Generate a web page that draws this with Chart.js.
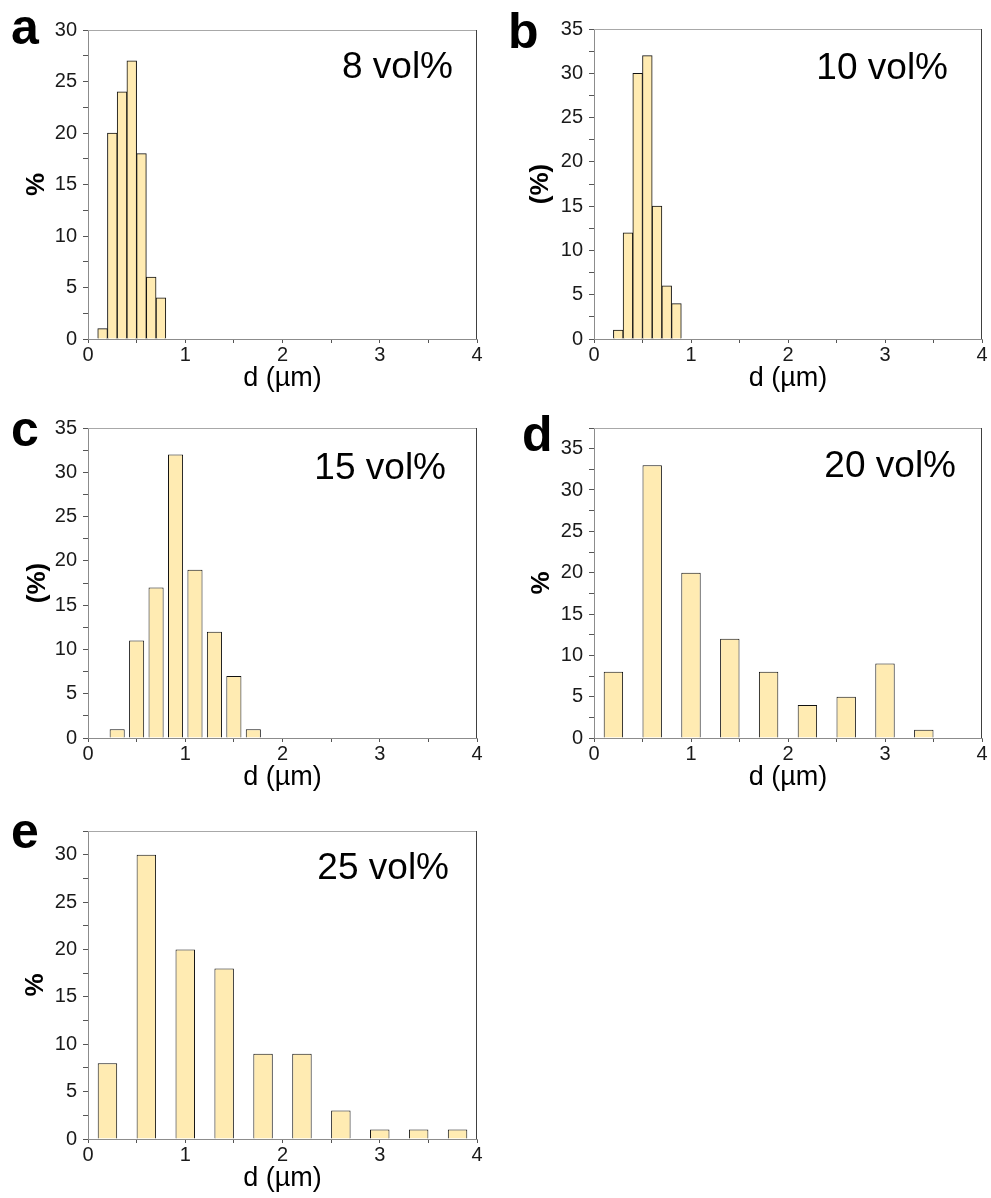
<!DOCTYPE html>
<html>
<head>
<meta charset="utf-8">
<script src="https://cdn.jsdelivr.net/npm/chart.js@4.4.1/dist/chart.umd.min.js"></script>
<style>
  body { margin: 0; background: #fff; width: 991px; height: 1198px; position: relative; overflow: hidden;
         font-family: 'Liberation Sans', Arial, sans-serif; }
  canvas { position: absolute; }
  .letter { position: absolute; font-weight: bold; font-size: 50px; line-height: 50px; color: #000; }
</style>
</head>
<body>
<canvas id="chartA"></canvas>
<canvas id="chartB"></canvas>
<canvas id="chartC"></canvas>
<canvas id="chartD"></canvas>
<canvas id="chartE"></canvas>
<div class="letter" style="left:11px; top:2px;">a</div>
<div class="letter" style="left:508px; top:6px;">b</div>
<div class="letter" style="left:11px; top:404px;">c</div>
<div class="letter" style="left:522px; top:409px;">d</div>
<div class="letter" style="left:11px; top:806px;">e</div>
<script>
// Datos de cada histograma (centro de la clase en µm, porcentaje)
const dA = [0.15, 0.25, 0.35, 0.45, 0.55, 0.65, 0.75];
const pctA = [1, 20, 24, 27, 18, 6, 4];

const dB = [0.25, 0.35, 0.45, 0.55, 0.65, 0.75, 0.85];
const pctB = [1, 12, 30, 32, 15, 6, 4];

const dC = [0.3, 0.5, 0.7, 0.9, 1.1, 1.3, 1.5, 1.7];
const pctC = [1, 11, 17, 32, 19, 12, 7, 1];

const dD = [0.2, 0.6, 1.0, 1.4, 1.8, 2.2, 2.6, 3.0, 3.4];
const pctD = [8, 33, 20, 12, 8, 4, 5, 9, 1];

const dE = [0.2, 0.6, 1.0, 1.4, 1.8, 2.2, 2.6, 3.0, 3.4, 3.8];
const pctE = [8, 30, 20, 18, 9, 9, 3, 1, 1, 1];

// Ticks (los intermedios van sin etiqueta)
const xTicks = [0, 0.5, 1, 1.5, 2, 2.5, 3, 3.5, 4];
const yTicksA = [0, 2.5, 5, 7.5, 10, 12.5, 15, 17.5, 20, 22.5, 25, 27.5, 30];
const yTicksB = [0, 2.5, 5, 7.5, 10, 12.5, 15, 17.5, 20, 22.5, 25, 27.5, 30, 32.5, 35];
const yTicksC = yTicksB;
const yTicksD = [0, 2.5, 5, 7.5, 10, 12.5, 15, 17.5, 20, 22.5, 25, 27.5, 30, 32.5, 35, 37.5];
const yTicksE = [0, 2.5, 5, 7.5, 10, 12.5, 15, 17.5, 20, 22.5, 25, 27.5, 30, 32.5];

const FONT = "'Liberation Sans', Arial, sans-serif";

// Marco gris arriba/derecha y la etiqueta "x vol%"
const framePlugin = {
    id: 'frame',
    afterDraw(chart, args, opts) {
        const { ctx, chartArea: a } = chart;
        ctx.save();
        ctx.lineWidth = 1;
        ctx.strokeStyle = '#a8a8a8';
        ctx.beginPath();
        ctx.moveTo(a.left, a.top + 0.5);
        ctx.lineTo(a.right, a.top + 0.5);
        ctx.stroke();
        ctx.strokeStyle = '#404040';
        ctx.beginPath();
        ctx.moveTo(a.right - 0.5, a.top);
        ctx.lineTo(a.right - 0.5, a.bottom);
        ctx.stroke();
        ctx.fillStyle = '#000';
        ctx.font = '37px ' + FONT;
        ctx.textAlign = 'right';
        ctx.textBaseline = 'alphabetic';
        ctx.fillText(opts.text, a.right - opts.gap, a.top + opts.dy);
        ctx.restore();
    }
};

function makeHist(id, p) {
    const cv = document.getElementById(id);
    const top = p.plotT - 14;
    const h = p.plotB - p.plotT + 14 + 62;
    cv.width = p.w;
    cv.height = h;
    cv.style.left = p.colX + 'px';
    cv.style.top = top + 'px';
    cv.style.width = p.w + 'px';
    cv.style.height = h + 'px';

    return new Chart(cv, {
        type: 'bar',
        data: {
            datasets: [{
                data: p.xs.map((x, i) => ({ x: x, y: p.ys[i] })),
                backgroundColor: '#FFEBB2',
                borderColor: '#111',
                borderWidth: 1,
                barPercentage: p.barPct,
                categoryPercentage: 1
            }]
        },
        plugins: [framePlugin],
        options: {
            responsive: false,
            animation: false,
            events: [],
            layout: { padding: { top: 14, left: 0, bottom: 0, right: p.colX + p.w - p.plotR } },
            plugins: {
                legend: { display: false },
                tooltip: { enabled: false },
                frame: { text: p.label, gap: p.gap, dy: p.dy }
            },
            scales: {
                x: {
                    type: 'linear',
                    min: 0,
                    max: 4,
                    offset: false,
                    afterBuildTicks: s => { s.ticks = xTicks.map(v => ({ value: v })); },
                    afterFit: s => { s.height = 62; },
                    grid: { display: true, drawOnChartArea: false, drawTicks: true, tickLength: 4, tickColor: '#555', offset: false },
                    border: { color: '#8c8c8c', width: 1 },
                    ticks: {
                        autoSkip: false, maxRotation: 0, padding: 0, color: '#1a1a1a',
                        font: { size: 20, family: FONT },
                        callback: v => Number.isInteger(v) ? String(v) : ''
                    },
                    title: { display: true, text: 'd (µm)', color: '#000', font: { size: 27, family: FONT }, padding: { top: 0, bottom: 6 } }
                },
                y: {
                    min: 0,
                    max: p.yTicks[p.yTicks.length - 1],
                    afterBuildTicks: s => { s.ticks = p.yTicks.map(v => ({ value: v })); },
                    afterFit: s => { s.width = p.plotL - p.colX; },
                    grid: { display: true, drawOnChartArea: false, drawTicks: true, tickLength: 5, tickColor: '#555' },
                    border: { color: '#8c8c8c', width: 1 },
                    ticks: {
                        autoSkip: false, padding: 6, color: '#1a1a1a',
                        font: { size: 20, family: FONT },
                        callback: v => (v % 5 === 0) ? String(v) : ''
                    },
                    title: { display: true, text: p.yTitle, color: '#000', font: { size: 26, weight: 'bold', family: FONT }, padding: { top: p.titlePad, bottom: 0 } }
                }
            }
        }
    });
}

makeHist('chartA', { xs: dA, ys: pctA, yTicks: yTicksA, barPct: 1, colX: 0, w: 495, plotL: 88, plotT: 26, plotR: 477, plotB: 339,
    yTitle: '%', titlePad: 21, label: '8 vol%', gap: 24, dy: 48 });
makeHist('chartB', { xs: dB, ys: pctB, yTicks: yTicksB, barPct: 1, colX: 500, w: 491, plotL: 594, plotT: 25, plotR: 982, plotB: 339,
    yTitle: '(%)', titlePad: 25.5, label: '10 vol%', gap: 34, dy: 50 });
makeHist('chartC', { xs: dC, ys: pctC, yTicks: yTicksC, barPct: 0.775, colX: 0, w: 495, plotL: 88, plotT: 424, plotR: 477, plotB: 738,
    yTitle: '(%)', titlePad: 22, label: '15 vol%', gap: 31, dy: 51 });
makeHist('chartD', { xs: dD, ys: pctD, yTicks: yTicksD, barPct: 0.5, colX: 500, w: 491, plotL: 594, plotT: 424, plotR: 982, plotB: 738,
    yTitle: '%', titlePad: 26, label: '20 vol%', gap: 26, dy: 49 });
makeHist('chartE', { xs: dE, ys: pctE, yTicks: yTicksE, barPct: 0.5, colX: 0, w: 495, plotL: 88, plotT: 827, plotR: 477, plotB: 1139,
    yTitle: '%', titlePad: 20.5, label: '25 vol%', gap: 28, dy: 48 });
</script>
</body>
</html>
